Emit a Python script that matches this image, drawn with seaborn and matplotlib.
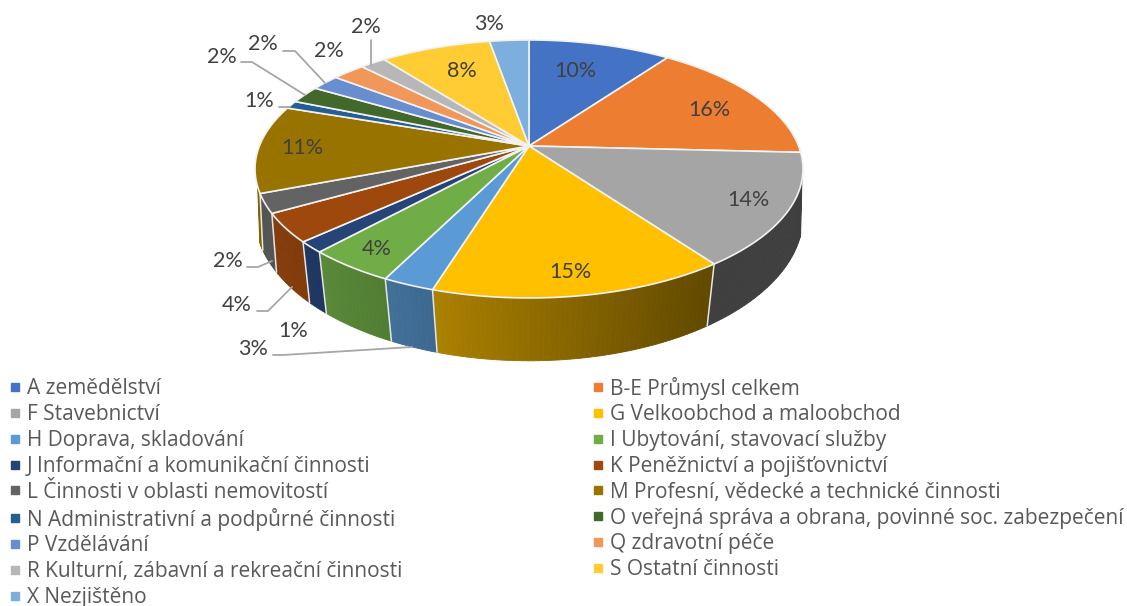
import numpy as np
import matplotlib
matplotlib.use('Agg')
from matplotlib import pyplot as plt
from matplotlib.lines import Line2D
import seaborn as sns

categories = ['A zemědělství', 'B-E Průmysl celkem', 'F Stavebnictví', 'G Velkoobchod a maloobchod',
              'H Doprava, skladování', 'I Ubytování, stavovací služby', 'J Informační a komunikační činnosti',
              'K Peněžnictví a pojišťovnictví', 'L Činnosti v oblasti nemovitostí',
              'M Profesní, vědecké a technické činnosti', 'N Administrativní a podpůrné činnosti',
              'O veřejná správa a obrana, povinné soc. zabezpečení', 'P Vzdělávání', 'Q zdravotní péče',
              'R Kulturní, zábavní a rekreační činnosti', 'S Ostatní činnosti', 'X Nezjištěno']
values = [10, 15.8, 14.2, 14.8, 2.6, 4.4, 1.4, 3.6, 2.4, 11, 1, 2.2, 2, 2.3, 1.8, 7.75, 2.75]
colors = ['#4472c4', '#ed7d31', '#a5a5a5', '#ffc000', '#5b9bd5', '#70ad47', '#264478', '#9e480e', '#636363',
          '#997300', '#255e91', '#43682b', '#698ed0', '#f1975a', '#b7b7b7', '#ffcd33', '#7cafdd']

# where each data label sits
label_pos = [(575, 71), (709, 110), (748, 200), (570, 272), (253, 349), (377, 249), (293, 331), (237, 305),
             (228, 261), (302, 148), (259, 101), (222, 57), (263, 44), (329, 51), (366, 27), (462, 71), (489, 24)]
leaders = [[(371, 40), (371, 65)],
           [(283, 51), (295, 51), (325, 83)],
           [(241, 62), (252, 62), (305, 95)],
           [(279, 107), (290, 107)],
           [(247, 267), (258, 267), (272, 261)],
           [(257, 311), (268, 311), (292, 287)],
           [(273, 355), (283, 355), (412, 347)]]

sns.set_theme(style='white')
palette = sns.color_palette(colors)

fig = plt.figure(figsize=(11.27, 6.06), dpi=100)
ax = fig.add_axes([0, 0, 1, 1])
ax.set_xlim(0, 1127)
ax.set_ylim(606, 0)
ax.axis('off')


# disc in perspective, theta clockwise from the top
def rim(theta, cx, cy, a, b, k):
    u = np.sin(theta)
    v = np.cos(theta)
    d = 1 + k * v
    return cx + a * u / d, cy - b * v / d


top = (529, 146, 269.6, 124.9, 0.178)
bottom = (529, 197, 272, 143, 0.127)

edges = np.cumsum([0] + values) / sum(values) * 2 * np.pi

# side wall, shaded by x
for i, c in enumerate(palette):
    lo = max(edges[i], np.radians(105))
    hi = min(edges[i + 1], np.radians(252))
    if hi <= lo:
        continue
    th = np.linspace(lo, hi, int((hi - lo) * 60) + 2)
    x0, y0 = rim(th, *top)
    x1, y1 = rim(th, *bottom)
    for j in range(len(th) - 1):
        xm = (x0[j] + x0[j + 1]) / 2
        f = np.clip(0.67 - 0.00105 * (xm - 435), 0.38, 0.92)
        shade = tuple(np.array(c) * f)
        ax.fill([x0[j], x0[j + 1], x1[j + 1], x1[j]], [y0[j], y0[j + 1], y1[j + 1], y1[j]],
                color=shade, lw=0.6, zorder=1)

for e in edges:
    if np.radians(105) < e < np.radians(252):
        x0, y0 = rim(e, *top)
        x1, y1 = rim(e, *bottom)
        ax.plot([x0, x1], [y0, y1], color='#e6e6e6', lw=1.1, zorder=2)

# top face
for i, c in enumerate(palette):
    th = np.linspace(edges[i], edges[i + 1], int((edges[i + 1] - edges[i]) * 60) + 2)
    x, y = rim(th, *top)
    ax.fill(np.r_[top[0], x], np.r_[top[1], y], facecolor=c, edgecolor='#f2f2f2', lw=1.2, zorder=3)

for line in leaders:
    xs, ys = zip(*line)
    ax.plot(xs, ys, color='#a6a6a6', lw=1.3, zorder=4)

for v, (x, y) in zip(values, label_pos):
    ax.text(x, y, f'{v:.0f}%', ha='center', va='center', fontsize=15.5, family='Lato', color='#404040', zorder=5)

handles = [Line2D([], [], marker='s', ls='', ms=5.8, color=c) for c in palette]
order = list(range(0, 17, 2)) + list(range(1, 17, 2))
leg = ax.legend([handles[i] for i in order], [categories[i] for i in order], ncol=2, frameon=False,
                loc='upper left', bbox_to_anchor=(8, 376.5), bbox_transform=ax.transData, borderpad=0,
                borderaxespad=0, handlelength=0.7, handletextpad=0.21, labelspacing=0.231,
                columnspacing=9.05, prop={'family': 'Open Sans', 'size': 15}, labelcolor='#595959')

fig.savefig('out.png', dpi=100)
